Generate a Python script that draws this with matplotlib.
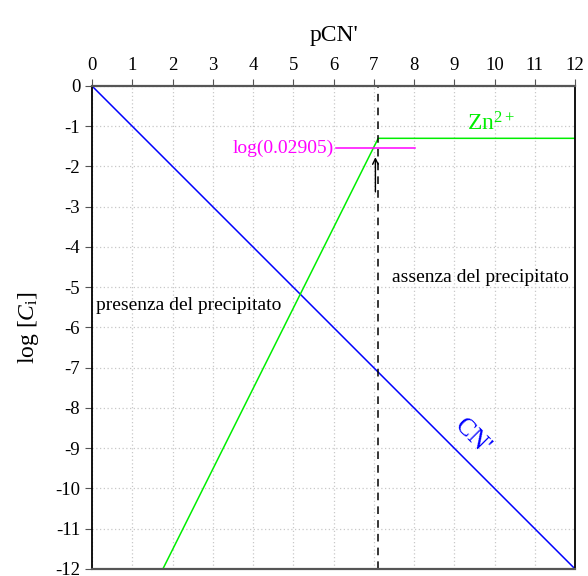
"""Diagramma logaritmico Zn2+ / CN'."""
import matplotlib
matplotlib.use("Agg")
import matplotlib.pyplot as plt

# dati
pcn_cn = [0, 12]
log_cn = [0, -12]
pcn_zn = [1.76, 7.11, 12]
log_zn = [-12, -1.3, -1.3]
pcn_limite = 7.11
log_ks = -1.537
ks_label = "log(0.02905)"
xticks = list(range(0, 13))
yticks = list(range(0, -13, -1))

plt.rcParams["font.family"] = ["Liberation Serif", "DejaVu Serif"]
plt.rcParams["mathtext.fontset"] = "custom"
plt.rcParams["mathtext.rm"] = "Liberation Serif"
plt.rcParams["mathtext.it"] = "Liberation Serif:italic"
plt.rcParams["axes.unicode_minus"] = False

fig = plt.figure(figsize=(5.88, 5.76), dpi=100)
ax = fig.add_axes([0.1565, 0.0122, 0.8215, 0.8385])

ax.plot(pcn_cn, log_cn, color="#0000ff", lw=1.1)
ax.plot(pcn_zn, log_zn, color="#00ee00", lw=1.1)
ax.axvline(pcn_limite, color="black", lw=1.1, ls=(0, (5, 4)))
ax.plot([6.06, 8.02], [log_ks, log_ks], color="#ff00ff", lw=1.1)
ax.text(6.0, log_ks, ks_label, color="#ff00ff", fontsize=14,
        ha="right", va="center")
ax.annotate("", xy=(7.04, -1.7), xytext=(7.04, -2.7),
            arrowprops=dict(arrowstyle="->", color="black", lw=1.0))

ax.text(9.9, -0.95, r"Zn$^{2+}$", color="#00ee00", fontsize=17,
        ha="center", va="center")
ax.text(9.44, -8.72, "CN'", color="#0000ff", fontsize=18, rotation=-45,
        ha="center", va="center")
ax.text(0.1, -5.45, "presenza del precipitato", fontsize=14,
        ha="left", va="center")
ax.text(7.45, -4.75, "assenza del precipitato", fontsize=14,
        ha="left", va="center")

ax.set_xlim(0, 12)
ax.set_ylim(-12, 0)
ax.set_xticks(xticks)
ax.set_yticks(yticks)
ax.xaxis.tick_top()
ax.xaxis.set_label_position("top")
ax.tick_params(labelsize=13.5, length=5, color="#555555")
ax.set_xlabel("pCN'", fontsize=17, labelpad=12)
ax.set_ylabel(r"log [$C_{\mathrm{i}}$]", fontsize=17, labelpad=10)
ax.grid(True, color="#c8c8c8", ls=(0, (1, 2)), lw=0.9)
for s in ["top", "bottom"]:
    ax.spines[s].set_color("#555555")
    ax.spines[s].set_linewidth(1.6)
for s in ["left", "right"]:
    ax.spines[s].set_linewidth(1.3)

fig.savefig("out.png", dpi=100)
